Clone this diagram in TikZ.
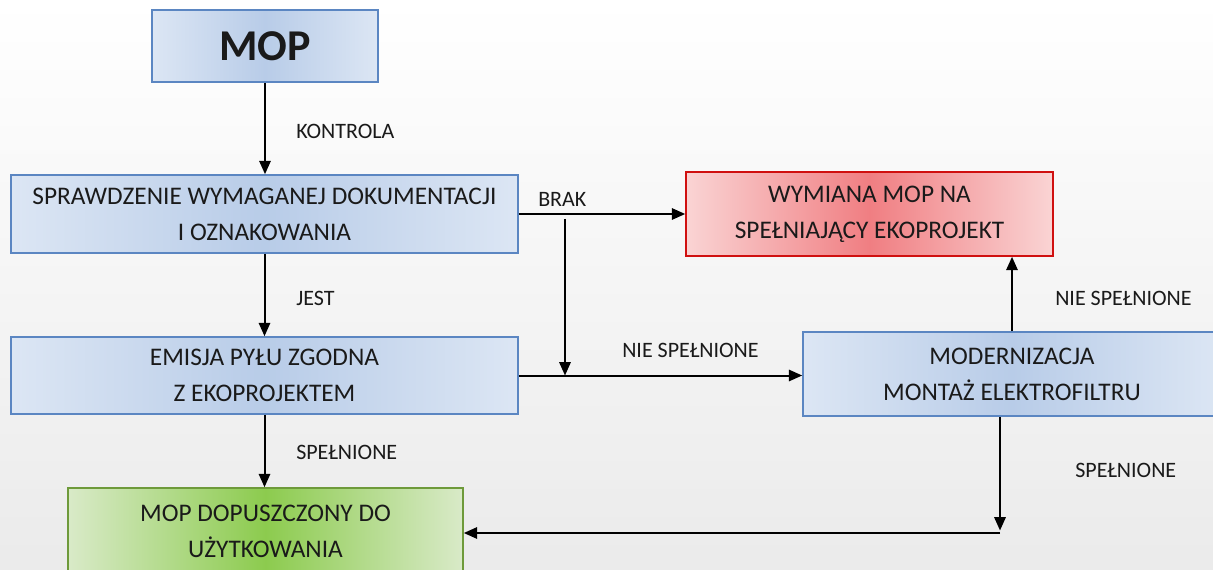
\documentclass[tikz,border=0pt]{standalone}
\usepackage{fontspec}
\setmainfont{Carlito}
\usetikzlibrary{arrows.meta}
\definecolor{bluebd}{HTML}{5B86C2}
\definecolor{blueedge}{HTML}{DCE6F4}
\definecolor{bluemid}{HTML}{B8CCE8}
\definecolor{redbd}{HTML}{D01010}
\definecolor{rededge}{HTML}{FAD4D4}
\definecolor{redmid}{HTML}{F07E82}
\definecolor{greenbd}{HTML}{6E9A3A}
\definecolor{greenedge}{HTML}{D9EAC8}
\definecolor{greenmid}{HTML}{8CCB4E}
\definecolor{txt}{HTML}{1A1A1A}
\tikzset{
  box/.style={draw=bluebd, line width=1.2pt, left color=blueedge, right color=blueedge, middle color=bluemid,
    align=center, text=txt, font=\fontsize{19}{27}\selectfont, inner sep=0pt},
  redbox/.style={box, draw=redbd, left color=rededge, right color=rededge, middle color=redmid},
  greenbox/.style={box, draw=greenbd, left color=greenedge, right color=greenedge, middle color=greenmid},
  arr/.style={line width=1.5pt, -{Triangle[length=10pt,width=8.5pt]}},
  lbl/.style={anchor=west, text=txt, font=\fontsize{16.5}{18}\selectfont, inner sep=0pt}
}
\begin{document}
\begin{tikzpicture}[x=0.75pt, y=-0.75pt]
\useasboundingbox (0,0) rectangle (1213,570);
\clip (0,0) rectangle (1213,570);
\fill[top color=white, bottom color=black!8] (0,0) rectangle (1213,570);

\node[box, minimum width=226*0.75pt, minimum height=72*0.75pt, font=\fontsize{33}{36}\selectfont\bfseries] (mop) at (265,46) {MOP};
\node[box, minimum width=507*0.75pt, minimum height=78*0.75pt] (chk) at (264.5,214) {SPRAWDZENIE WYMAGANEJ DOKUMENTACJI\\I OZNAKOWANIA};
\node[box, minimum width=507*0.75pt, minimum height=77*0.75pt] (emi) at (264.5,375.5) {EMISJA PYŁU ZGODNA\\Z EKOPROJEKTEM};
\node[redbox, minimum width=367*0.75pt, minimum height=84*0.75pt] (rep) at (869.5,214) {WYMIANA MOP NA\\SPEŁNIAJĄCY EKOPROJEKT};
\node[box, minimum width=418*0.75pt, minimum height=84*0.75pt] (mod) at (1012,374) {MODERNIZACJA\\MONTAŻ ELEKTROFILTRU};
\node[greenbox, minimum width=395*0.75pt, minimum height=86*0.75pt] (ok) at (265.5,531) {MOP DOPUSZCZONY DO\\UŻYTKOWANIA};

\coordinate (j1) at (565,219);
\coordinate (corner) at (1000,533);

\draw[arr] (mop.south) -- (mop.south |- chk.north);
\draw[arr] (chk.east) -- (rep.west);
\draw[arr] (j1) -- (j1 |- emi.east);
\draw[arr] (chk.south) -- (emi.north);
\draw[arr] (emi.east) -- (emi.east -| mod.west);
\draw[arr] (mod.north) -- (mod.north |- rep.south);
\draw[arr] (emi.south) -- (emi.south |- ok.north);
\draw[arr] (mod.south -| corner) -- ([yshift=2.5*0.75pt]corner);
\draw[arr] (corner) -- (corner -| ok.east);

\node[lbl] (l1) at (296,131) {KONTROLA};
\node[lbl] (l2) at (538,199) {BRAK};
\node[lbl] (l3) at (296,298) {JEST};
\node[lbl] (l4) at (622,350) {NIE SPEŁNIONE};
\node[lbl] (l5) at (1055,298) {NIE SPEŁNIONE};
\node[lbl] (l6) at (296,452) {SPEŁNIONE};
\node[lbl] (l7) at (1075,470) {SPEŁNIONE};
\end{tikzpicture}
\end{document}
